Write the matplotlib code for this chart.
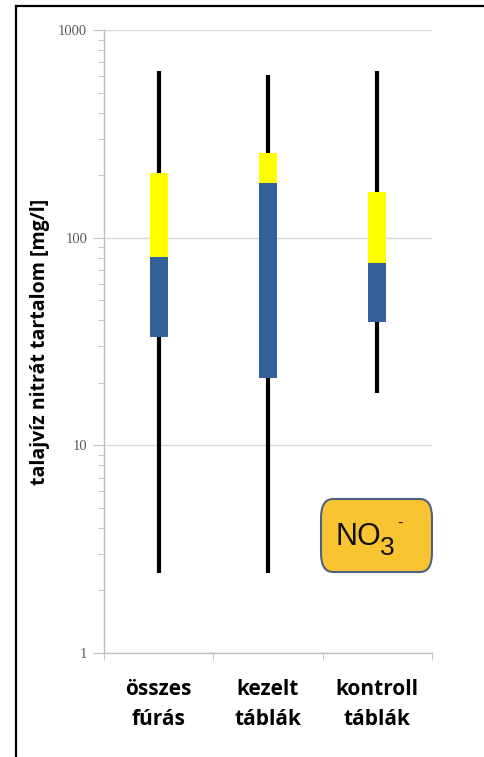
import matplotlib
matplotlib.use("Agg")
import matplotlib.pyplot as plt
from matplotlib.patches import FancyBboxPatch
from matplotlib.lines import Line2D
from matplotlib.ticker import LogLocator, NullFormatter, FixedLocator

categories = ["összes\nfúrás", "kezelt\ntáblák", "kontroll\ntáblák"]
minimum = [2.43, 2.43, 17.9]
q1 = [33.3, 21.1, 39.3]
median = [80.7, 183, 75.5]
q3 = [205, 256, 166]
maximum = [635, 607, 635]

blue = "#34609A"
yellow = "#FFFF00"

fig = plt.figure(figsize=(4.85, 7.57), dpi=100)
ax = fig.add_axes([104/485, 1-653/757, 328/485, 623/757])

xs = list(range(len(categories)))
ax.vlines(xs, minimum, maximum, colors="black", linewidth=3, zorder=2)
ax.bar(xs, [m - a for m, a in zip(median, q1)], bottom=q1, width=0.165,
       color=blue, zorder=3)
ax.bar(xs, [b - m for b, m in zip(q3, median)], bottom=median, width=0.165,
       color=yellow, zorder=3)

ax.set_yscale("log")
ax.set_ylim(1, 1000)
ax.set_xlim(-0.5, 2.5)
ax.yaxis.set_minor_locator(LogLocator(base=10, subs=range(2, 10), numticks=20))
ax.yaxis.set_minor_formatter(NullFormatter())
ax.set_yticks([1, 10, 100, 1000])
ax.set_yticklabels(["1", "10", "100", "1000"])
ax.grid(axis="y", which="major", color="#D9D9D9", linewidth=1, zorder=0)
ax.set_axisbelow(True)

ax.set_xticks(xs)
ax.set_xticklabels(categories, fontsize=15, fontweight="bold", family="Open Sans",
                   linespacing=1.55)
ax.xaxis.set_minor_locator(FixedLocator([-0.5, 0.5, 1.5, 2.5]))
ax.tick_params(axis="x", which="major", length=0, pad=19, colors="black")
ax.tick_params(axis="x", which="minor", length=5, color="#BFBFBF", direction="out")
ax.tick_params(axis="y", which="major", length=8, color="#BFBFBF", labelsize=10.5,
               labelcolor="#595959", pad=4)
ax.tick_params(axis="y", which="minor", length=4, color="#BFBFBF")
for lab in ax.get_yticklabels():
    lab.set_family("Liberation Serif")

for s in ["top", "right"]:
    ax.spines[s].set_visible(False)
for s in ["left", "bottom"]:
    ax.spines[s].set_color("#BFBFBF")
    ax.spines[s].set_linewidth(1)

ax.set_ylabel("talajvíz nitrát tartalom [mg/l]", fontsize=14, fontweight="bold",
              family="Open Sans", labelpad=6)

# NO3- label box
box = FancyBboxPatch((321/485, 1-572/757), 111/485, 73/757,
                     boxstyle="round,pad=0,rounding_size=0.025",
                     transform=fig.transFigure, facecolor="#F9C432",
                     edgecolor="#4D6282", linewidth=1.5, zorder=5)
fig.patches.append(box)
fig.text(336/485, 1-545/757, "NO", fontsize=22, family="Liberation Sans",
         ha="left", va="baseline", color="#111111", zorder=6)
fig.text(380/485, 1-555/757, "3", fontsize=19, family="Liberation Sans",
         ha="left", va="baseline", color="#111111", zorder=6)
fig.text(397/485, 1-528/757, "-", fontsize=12, family="Liberation Sans",
         ha="left", va="baseline", color="#111111", zorder=6)

# frame lines of the picture
fig.add_artist(Line2D([16/485, 16/485], [0, 1-5.5/757], transform=fig.transFigure,
                      color="black", linewidth=1.6))
fig.add_artist(Line2D([16/485, 1], [1-5.5/757, 1-5.5/757], transform=fig.transFigure,
                      color="black", linewidth=1.6))

fig.savefig("out.png", dpi=100)
